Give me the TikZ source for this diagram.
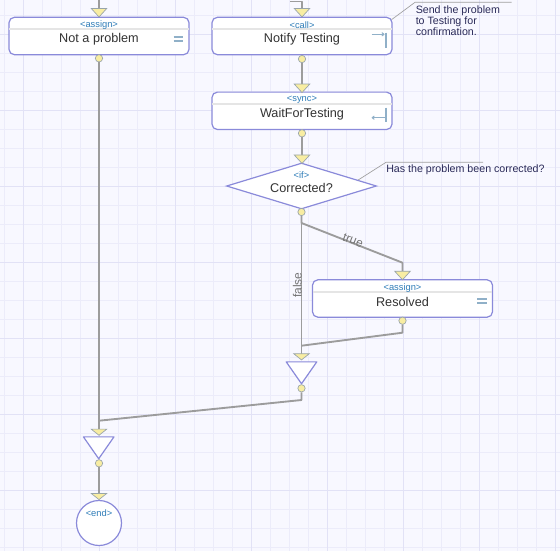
\documentclass[tikz,border=0pt]{standalone}
\usepackage{fontspec}
\setmainfont{Liberation Sans}
\usepackage{tikz}
\usetikzlibrary{shapes.geometric,arrows.meta}
\definecolor{bg}{HTML}{F8F8FF}
\definecolor{gridminor}{HTML}{ECECFA}
\definecolor{gridmajor}{HTML}{E2E2F6}
\definecolor{boxline}{HTML}{8A8ADA}
\definecolor{stereoblue}{HTML}{2F7DB8}
\definecolor{txt}{HTML}{333333}
\definecolor{notetxt}{HTML}{2A2A58}
\definecolor{flowgray}{HTML}{9C9C9C}
\definecolor{yel}{HTML}{F8EDA2}
\definecolor{yelline}{HTML}{98A4AA}
\definecolor{iconblue}{HTML}{90B0C8}

\begin{document}
\begin{tikzpicture}
  [x=0.75pt,y=-0.75pt,
   actbox/.style={draw=boxline,fill=white,line width=0.9pt,rounded corners=4pt,minimum width=135pt,minimum height=28pt,inner sep=0pt},
   stereo/.style={text=stereoblue,font=\fontsize{7}{8}\selectfont,inner sep=0pt},
   lbl/.style={text=txt,font=\fontsize{9.5}{11}\selectfont,inner sep=0pt},
   note/.style={text=notetxt,font=\fontsize{8}{8.5}\selectfont,inner sep=0pt,align=left},
   notelink/.style={draw=gray!75,line width=0.5pt},
   flow/.style={draw=flowgray,line width=1.4pt,line join=round},
   flowlbl/.style={text=black!55,font=\fontsize{9}{10}\selectfont,inner sep=0pt},
   intri/.style={minimum width=11.25pt,minimum height=6pt,inner sep=0pt},
   smalltri/.style={minimum width=11.25pt,minimum height=4.2pt,inner sep=0pt},
   mergetri/.style={minimum width=22.5pt,minimum height=16pt,inner sep=0pt},
   outcirc/.style={circle,draw=yelline,fill=yel,line width=0.5pt,minimum size=5.5pt,inner sep=0pt},
   sepline/.style={draw=black!10,line width=1.3pt,shorten <=0.7pt,shorten >=0.7pt},
   iconline/.style={draw=iconblue,line width=0.9pt}]

  % background and grid
  \useasboundingbox[fill=bg] (0,0) rectangle (560,551);
  \foreach \i in {0,...,29}
    \draw[gridminor,line width=0.5pt] ({4.3+19*\i},0) -- ({4.3+19*\i},551);
  \foreach \j in {0,...,28}
    \draw[gridminor,line width=0.5pt] (0,{15.7+19*\j}) -- (560,{15.7+19*\j});
  \foreach \i in {0,...,7}
    \draw[gridmajor,line width=0.6pt] ({23.3+76*\i},0) -- ({23.3+76*\i},551);
  \foreach \j in {0,...,7}
    \draw[gridmajor,line width=0.6pt] (0,{34.7+76*\j}) -- (560,{34.7+76*\j});

  % activities
  \node[actbox] (n1) at (99,36) {};
  \node[actbox] (n2) at (302,36) {};
  \node[actbox] (n3) at (302,110.8) {};
  \node[diamond,draw=boxline,fill=white,line width=0.9pt,minimum width=112.5pt,minimum height=34.5pt,inner sep=0pt] (n4) at (301.5,186) {};
  \node[actbox] (n5) at (402.5,298.5) {};
  \node[mergetri] (n6) at (301.5,372.8) {};
  \node[mergetri] (n7) at (98.7,447.8) {};
  \node[circle,draw=boxline,fill=white,line width=0.9pt,minimum size=33.75pt,inner sep=0pt] (n8) at (99,523) {};

  \foreach \b in {n1,n2,n3,n5}
    \draw[sepline] ([yshift=-9.4pt]\b.north west) -- ([yshift=-9.4pt]\b.north east);

  \node[stereo] (s1) at ([yshift=-6.5pt]n1.north) {<assign>};
  \node[lbl] (l1) at ([yshift=-17.2pt]n1.north) {Not a problem};
  \node[stereo] (s2) at ([yshift=-6.5pt]n2.north) {<call>};
  \node[lbl] (l2) at ([yshift=-17.2pt]n2.north) {Notify Testing};
  \node[stereo] (s3) at ([yshift=-6.5pt]n3.north) {<sync>};
  \node[lbl] (l3) at ([yshift=-17.2pt]n3.north) {WaitForTesting};
  \node[stereo] (s4) at (301.5,175) {<if>};
  \node[lbl] (l4) at (301.5,187.5) {Corrected?};
  \node[stereo] (s5) at ([yshift=-6.7pt]n5.north) {<assign>};
  \node[lbl] (l5) at ([yshift=-17pt]n5.north) {Resolved};
  \node[stereo] (s8) at (99,513) {<end>};

  % icons
  \draw[iconline] (173.5,37) -- (183,37) (173.5,41) -- (183,41);
  \draw[iconline] (477.3,299) -- (486.5,299) (477.3,303) -- (486.5,303);
  \draw[iconline,-{To[length=2.2pt,width=3pt]}] (371.7,34.3) -- (384.5,34.3);
  \draw[iconline] (386,32.7) -- (386,47.5);
  \draw[iconline,-{To[length=2.2pt,width=3pt]}] (384.5,117.7) -- (371.7,117.7);
  \draw[iconline] (386,107.7) -- (386,122.3);

  % ports
  \node[intri] (t1) at (99,12.7) {};
  \node[intri] (t2) at (302,12.7) {};
  \node[intri] (t3) at (302,88.3) {};
  \node[intri] (t4) at (302,159.2) {};
  \node[intri] (t5) at (402.5,275.5) {};
  \node[smalltri] (t6) at (301.5,356.8) {};
  \node[smalltri] (t7) at (99,432.2) {};
  \node[smalltri] (t8) at (99,496.5) {};
  \node[outcirc] (c1) at (99,58.3) {};
  \node[outcirc] (c2) at (302,59) {};
  \node[outcirc] (c3) at (302,133.3) {};
  \node[outcirc] (c4) at (301.5,212) {};
  \node[outcirc] (c5) at (402.5,320.7) {};
  \node[outcirc] (c6) at (301.5,388.3) {};
  \node[outcirc] (c7) at (99,463.3) {};

  % bends
  \coordinate (e1) at (99,0);
  \coordinate (e2) at (290,1.5);
  \coordinate (b1) at (301.5,223);
  \coordinate (b2) at (402.5,262.7);
  \coordinate (b3) at (402.5,332.7);
  \coordinate (b4) at (301.5,345.7);
  \coordinate (b5) at (301.5,400);
  \coordinate (b6) at (99,420.7);

  \draw[flow] (e1) -- (t1.north);
  \draw[flow] (e2) -| (t2.north);
  \foreach \from/\to in {c1/t7,c2/t3,c3/t4,c4/t6,c7/t8}
    \draw[flow] (\from.south) -- (\to.north);
  \draw[flow] (c4.south) -- (b1) -- (b2) -- (t5.north);
  \draw[flow] (c5.south) -- (b3) -- (b4);
  \draw[flow] (c6.south) -- (b5) -- (b6);

  \node[flowlbl,rotate=-21] (f1) at (353,240.5) {true};
  \node[flowlbl,rotate=90] (f2) at (297.3,285) {false};

  \foreach \t in {t1,t2,t3,t4,t5,t6,t7,t8}
    \draw[draw=yelline,fill=yel,line width=0.5pt] (\t.north west) -- (\t.north east) -- (\t.south) -- cycle;
  \foreach \t in {n6,n7}
    \draw[draw=boxline,fill=white,line width=0.9pt,line join=round] (\t.north west) -- (\t.north east) -- (\t.south) -- cycle;

  % notes
  \node[note,anchor=north west] (m1) at (415.5,5.3) {Send the problem\\to Testing for\\confirmation.};
  \draw[notelink] ([xshift=-0.8pt,yshift=-2.2pt]n2.north east) -- (415,2.3) -- (511.7,2.3);
  \node[note,anchor=west] (m2) at (386,169.5) {Has the problem been corrected?};
  \draw[notelink] (n4.6) -- (386,162.3) -- (483,162.3);
\end{tikzpicture}
\end{document}
